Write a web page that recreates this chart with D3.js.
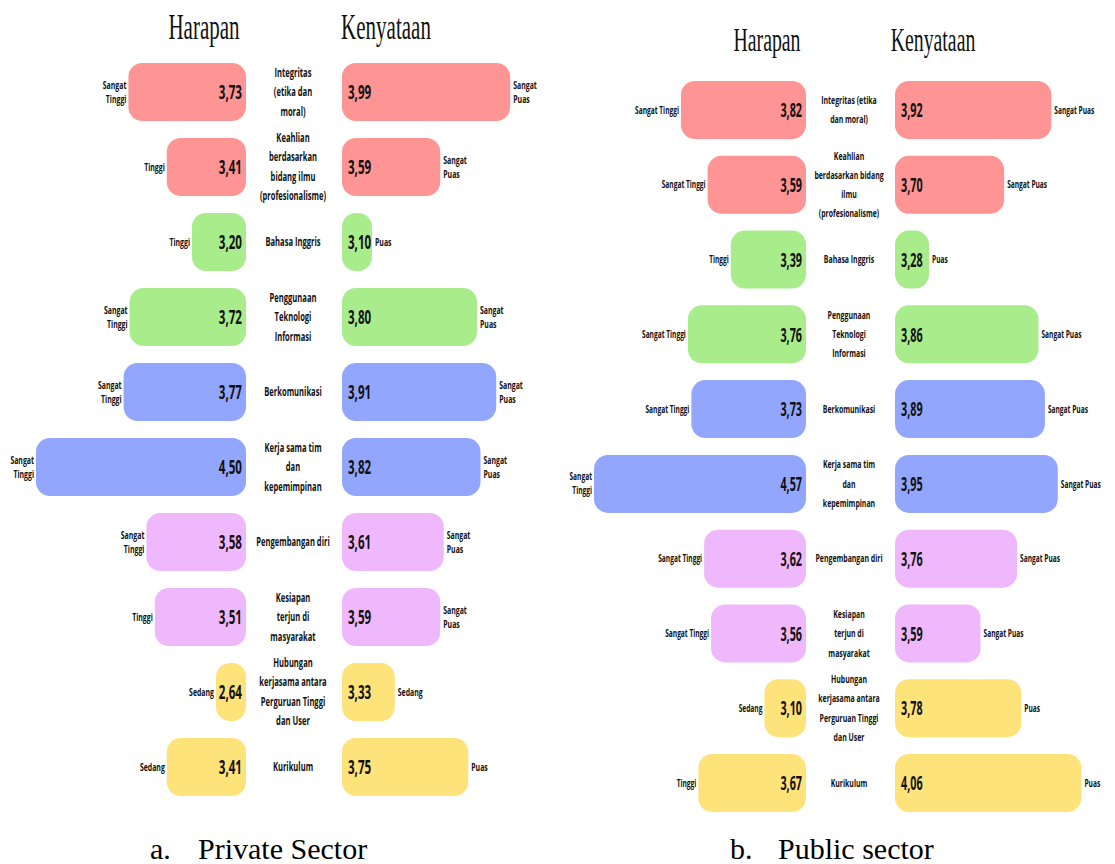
<!DOCTYPE html>
<html>
<head>
<meta charset="utf-8">
<script src="https://cdn.jsdelivr.net/npm/d3@7"></script>
<style>
  body { margin: 0; background: #fff; }
  svg { display: block; }
  .title { font-family: "Liberation Serif", serif; fill: #111; }
  .caption { font-family: "Liberation Serif", "Times New Roman", serif; fill: #000; }
  .lbl { font-family: "Open Sans", sans-serif; font-weight: 700; fill: #111; }
</style>
</head>
<body>
<script>
// skill names, line-broken the way each panel shows them
const privateSkills = [
  'Integritas\n(etika dan\nmoral)',
  'Keahlian\nberdasarkan\nbidang ilmu\n(profesionalisme)',
  'Bahasa Inggris',
  'Penggunaan\nTeknologi\nInformasi',
  'Berkomunikasi',
  'Kerja sama tim\ndan\nkepemimpinan',
  'Pengembangan diri',
  'Kesiapan\nterjun di\nmasyarakat',
  'Hubungan\nkerjasama antara\nPerguruan Tinggi\ndan User',
  'Kurikulum'
];
const publicSkills = [
  'Integritas (etika\ndan moral)',
  'Keahlian\nberdasarkan bidang\nilmu\n(profesionalisme)',
  'Bahasa Inggris',
  'Penggunaan\nTeknologi\nInformasi',
  'Berkomunikasi',
  'Kerja sama tim\ndan\nkepemimpinan',
  'Pengembangan diri',
  'Kesiapan\nterjun di\nmasyarakat',
  'Hubungan\nkerjasama antara\nPerguruan Tinggi\ndan User',
  'Kurikulum'
];

const groupColors = ['#fe9493', '#a9ec8b', '#93a6fe', '#efb8fc', '#fee27a'];
const skillGroup = [0, 0, 1, 1, 2, 2, 3, 3, 4, 4];

// a. Private sector
const privateHarapan = [3.73, 3.41, 3.20, 3.72, 3.77, 4.50, 3.58, 3.51, 2.64, 3.41];
const privateKenyataan = [3.99, 3.59, 3.10, 3.80, 3.91, 3.82, 3.61, 3.59, 3.33, 3.75];
const privateHarapanCat = ['Sangat\nTinggi', 'Tinggi', 'Tinggi', 'Sangat\nTinggi', 'Sangat\nTinggi',
  'Sangat\nTinggi', 'Sangat\nTinggi', 'Tinggi', 'Sedang', 'Sedang'];
const privateKenyataanCat = ['Sangat\nPuas', 'Sangat\nPuas', 'Puas', 'Sangat\nPuas', 'Sangat\nPuas',
  'Sangat\nPuas', 'Sangat\nPuas', 'Sangat\nPuas', 'Sedang', 'Puas'];

// b. Public sector
const publicHarapan = [3.82, 3.59, 3.39, 3.76, 3.73, 4.57, 3.62, 3.56, 3.10, 3.67];
const publicKenyataan = [3.92, 3.70, 3.28, 3.86, 3.89, 3.95, 3.76, 3.59, 3.78, 4.06];
const publicHarapanCat = ['Sangat Tinggi', 'Sangat Tinggi', 'Tinggi', 'Sangat Tinggi', 'Sangat Tinggi',
  'Sangat\nTinggi', 'Sangat Tinggi', 'Sangat Tinggi', 'Sedang', 'Tinggi'];
const publicKenyataanCat = ['Sangat Puas', 'Sangat Puas', 'Puas', 'Sangat Puas', 'Sangat Puas',
  'Sangat Puas', 'Sangat Puas', 'Sangat Puas', 'Puas', 'Puas'];

const fmt = v => d3.format('.2f')(v).replace('.', ',');

const svg = d3.select('body').append('svg')
  .attr('width', 1115)
  .attr('height', 864);

// condensed look: squeeze the text horizontally
function multiText(parent, x, y, str, o) {
  const lines = str.split('\n');
  const t = parent.append('text')
    .attr('class', o.cls || 'lbl')
    .attr('transform', `translate(${x},${y}) scale(${o.sx},1)`)
    .attr('text-anchor', o.anchor)
    .style('font-size', o.fs + 'px');
  lines.forEach((ln, j) => {
    t.append('tspan')
      .attr('x', 0)
      .attr('y', (j - (lines.length - 1) / 2) * o.lh)
      .attr('dy', '0.36em')
      .text(ln);
  });
  return t;
}

function drawPanel(cfg) {
  const g = svg.append('g');
  const barH = 58;

  const y = d3.scalePoint()
    .domain(d3.range(cfg.skills.length))
    .range(cfg.yRange);
  const xH = d3.scaleLinear().domain(cfg.hDomain).range(cfg.hRange).clamp(true);
  const xK = d3.scaleLinear().domain(cfg.kDomain).range(cfg.kRange).clamp(true);

  const rows = cfg.skills.map((s, i) => ({
    i, skill: s,
    h: cfg.harapan[i], k: cfg.kenyataan[i],
    hCat: cfg.hCat[i], kCat: cfg.kCat[i],
    color: groupColors[skillGroup[i]]
  }));

  // titles
  multiText(g, cfg.hTitleX, cfg.titleY, 'Harapan', {cls: 'title', sx: cfg.titleSx, fs: cfg.titleFs, lh: 0, anchor: 'middle'});
  multiText(g, cfg.kTitleX, cfg.titleY, 'Kenyataan', {cls: 'title', sx: cfg.titleSx, fs: cfg.titleFs, lh: 0, anchor: 'middle'});

  // Harapan bars grow to the left
  g.selectAll('rect.h').data(rows).join('rect')
    .attr('class', 'h')
    .attr('x', d => cfg.hRight - xH(d.h))
    .attr('y', d => y(d.i) - barH / 2)
    .attr('width', d => xH(d.h))
    .attr('height', barH)
    .attr('rx', 14)
    .attr('fill', d => d.color);

  // Kenyataan bars grow to the right
  g.selectAll('rect.k').data(rows).join('rect')
    .attr('class', 'k')
    .attr('x', cfg.kLeft)
    .attr('y', d => y(d.i) - barH / 2)
    .attr('width', d => xK(d.k))
    .attr('height', barH)
    .attr('rx', 14)
    .attr('fill', d => d.color);

  rows.forEach(d => {
    const cy = y(d.i);
    // values
    multiText(g, cfg.hRight - 4, cy, fmt(d.h), {sx: cfg.valSx, fs: 20, lh: 0, anchor: 'end'});
    multiText(g, cfg.kLeft + 6, cy, fmt(d.k), {sx: cfg.valSx, fs: 20, lh: 0, anchor: 'start'});
    // skill name in the middle
    multiText(g, cfg.centerX, cy, d.skill, {sx: 0.66, fs: cfg.centerFs, lh: cfg.centerLh, anchor: 'middle'});
    // category labels on the outside
    multiText(g, cfg.hRight - xH(d.h) - 2, cy, d.hCat, {sx: 0.66, fs: cfg.sideFs, lh: 14, anchor: 'end'});
    multiText(g, cfg.kLeft + xK(d.k) + 3, cy, d.kCat, {sx: 0.66, fs: cfg.sideFs, lh: 14, anchor: 'start'});
  });

  // caption
  g.append('text').attr('class', 'caption')
    .attr('x', cfg.capX).attr('y', 859).style('font-size', '30px')
    .text(cfg.capLetter);
  g.append('text').attr('class', 'caption')
    .attr('x', cfg.capX + 48).attr('y', 859).style('font-size', '30px')
    .text(cfg.capText);
}

drawPanel({
  skills: privateSkills,
  harapan: privateHarapan, kenyataan: privateKenyataan,
  hCat: privateHarapanCat, kCat: privateKenyataanCat,
  yRange: [92, 767],
  hRight: 246, kLeft: 342, centerX: 293,
  hDomain: [3.0, 4.5], hRange: [30, 210],
  kDomain: [3.2, 4.0], kRange: [30, 170],
  titleY: 26, hTitleX: 204, kTitleX: 386, titleFs: 35, titleSx: 0.6,
  valSx: 0.58, centerFs: 11.5, centerLh: 19.5, sideFs: 10.5,
  capX: 150, capLetter: 'a.', capText: 'Private Sector'
});

drawPanel({
  skills: publicSkills,
  harapan: publicHarapan, kenyataan: publicKenyataan,
  hCat: publicHarapanCat, kCat: publicKenyataanCat,
  yRange: [110, 783],
  hRight: 806, kLeft: 895, centerX: 849,
  hDomain: [3.0, 4.57], hRange: [30, 212],
  kDomain: [3.35, 4.1], kRange: [34, 195],
  titleY: 39, hTitleX: 767, kTitleX: 933, titleFs: 33, titleSx: 0.6,
  valSx: 0.54, centerFs: 10.5, centerLh: 19.3, sideFs: 10,
  capX: 730, capLetter: 'b.', capText: 'Public sector'
});
</script>
</body>
</html>
